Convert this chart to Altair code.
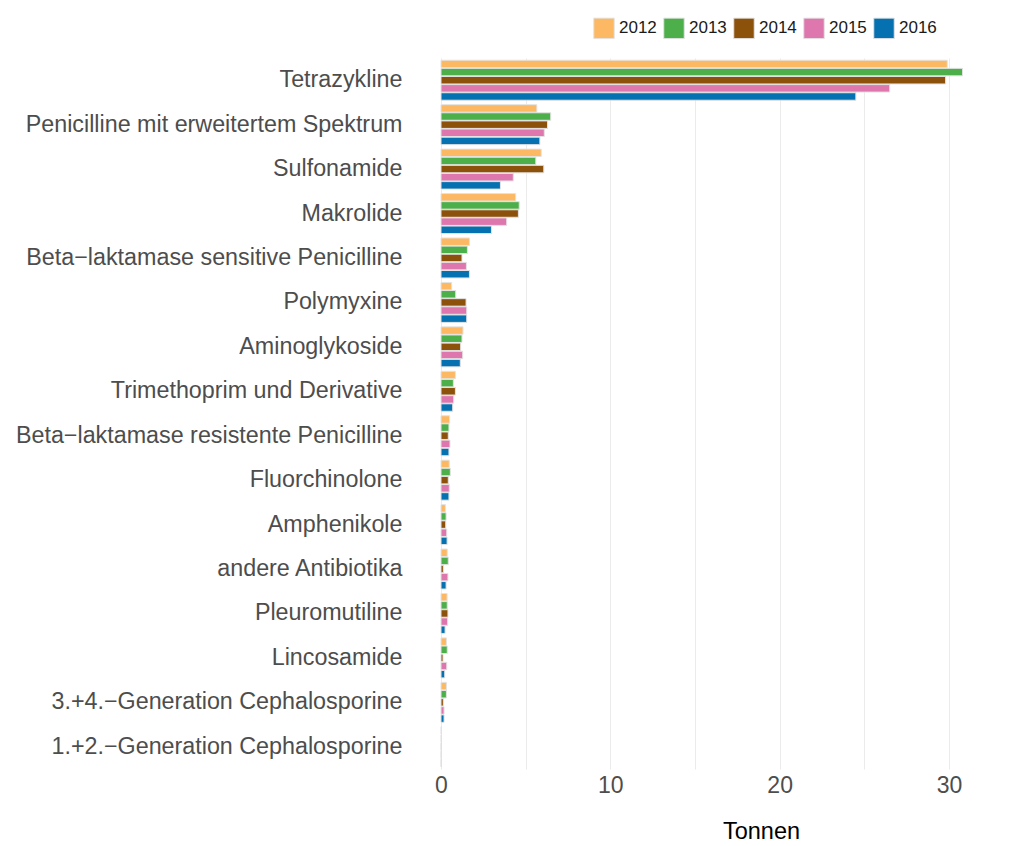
import altair as alt
import pandas as pd

categories = [
    "Tetrazykline",
    "Penicilline mit erweitertem Spektrum",
    "Sulfonamide",
    "Makrolide",
    "Beta−laktamase sensitive Penicilline",
    "Polymyxine",
    "Aminoglykoside",
    "Trimethoprim und Derivative",
    "Beta−laktamase resistente Penicilline",
    "Fluorchinolone",
    "Amphenikole",
    "andere Antibiotika",
    "Pleuromutiline",
    "Lincosamide",
    "3.+4.−Generation Cephalosporine",
    "1.+2.−Generation Cephalosporine",
]
years = ["2012", "2013", "2014", "2015", "2016"]
colors = ["#fdb863", "#4daf4a", "#8c510a", "#de77ae", "#0571b0"]

v2012 = [29.9, 5.66, 5.92, 4.41, 1.68, 0.63, 1.30, 0.85, 0.51, 0.49, 0.26, 0.37, 0.36, 0.32, 0.32, 0.02]
v2013 = [30.8, 6.48, 5.60, 4.62, 1.56, 0.87, 1.24, 0.73, 0.47, 0.55, 0.30, 0.43, 0.37, 0.37, 0.32, 0.02]
v2014 = [29.8, 6.29, 6.07, 4.57, 1.24, 1.48, 1.16, 0.85, 0.43, 0.43, 0.28, 0.14, 0.41, 0.12, 0.14, 0.01]
v2015 = [26.5, 6.10, 4.27, 3.88, 1.50, 1.52, 1.28, 0.75, 0.53, 0.49, 0.34, 0.41, 0.39, 0.34, 0.18, 0.01]
v2016 = [24.5, 5.84, 3.51, 2.98, 1.68, 1.52, 1.14, 0.69, 0.47, 0.47, 0.36, 0.30, 0.24, 0.22, 0.18, 0.01]

series = dict(zip(years, [v2012, v2013, v2014, v2015, v2016]))
rows = []
for y, vals in series.items():
    for c, v in zip(categories, vals):
        rows.append({"Wirkstoffklasse": c, "Jahr": y, "Tonnen": v})
df = pd.DataFrame(rows)

font = "Liberation Sans"

chart = (
    alt.Chart(df)
    .mark_bar(stroke="#e3e3e3", strokeWidth=1)
    .encode(
        y=alt.Y(
            "Wirkstoffklasse:N",
            sort=categories,
            title=None,
            scale=alt.Scale(paddingInner=0.1, paddingOuter=0.05),
            axis=alt.Axis(
                domain=False,
                ticks=False,
                labelFontSize=23.3,
                labelColor="#4d4d4d",
                labelFont=font,
                labelPadding=39,
                labelLimit=600,
            ),
        ),
        yOffset=alt.YOffset("Jahr:N", sort=years, scale=alt.Scale(paddingInner=0.08)),
        x=alt.X(
            "Tonnen:Q",
            scale=alt.Scale(domain=[0, 31.3], nice=False),
            title="Tonnen",
            axis=alt.Axis(
                values=[0, 5, 10, 15, 20, 25, 30],
                labelExpr="datum.value % 10 == 0 ? datum.label : ''",
                labelFlush=False,
                domain=False,
                ticks=False,
                grid=True,
                gridColor="#ebebeb",
                labelFontSize=23,
                labelColor="#4d4d4d",
                labelFont=font,
                labelPadding=5,
                titleFontSize=23.5,
                titleFont=font,
                titleFontWeight="normal",
                titleColor="#000000",
                titleX=320,
                titleY=62,
                titleBaseline="middle",
            ),
        ),
        color=alt.Color(
            "Jahr:N",
            sort=years,
            scale=alt.Scale(domain=years, range=colors),
            legend=alt.Legend(
                title=None,
                orient="none",
                direction="horizontal",
                legendX=152,
                legendY=-41,
                symbolType="square",
                symbolSize=420,
                symbolStrokeColor="#e3e3e3",
                symbolStrokeWidth=1,
                symbolOpacity=1,
                labelFontSize=17,
                labelFont=font,
                labelColor="#1a1a1a",
                columnPadding=4,
                labelOffset=4,
            ),
        ),
    )
    .properties(
        width=530,
        height=711,
        padding={"left": 7, "top": 9, "right": 5, "bottom": 0},
    )
    .configure_view(strokeWidth=0, stroke="transparent")
)

chart.save("out.html", embed_options={"renderer": "svg", "actions": False})
